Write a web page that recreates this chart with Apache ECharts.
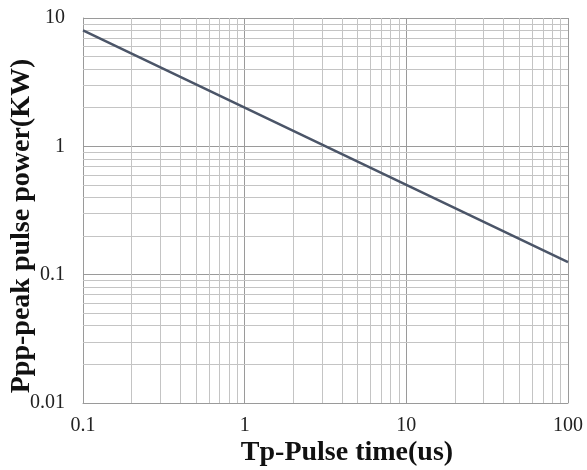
<!DOCTYPE html>
<html>
<head>
<meta charset="utf-8">
<script src="https://cdn.jsdelivr.net/npm/echarts@6/dist/echarts.min.js"></script>
<style>
  html, body { margin: 0; padding: 0; background: #fff; }
  #chart { width: 587px; height: 470px; }
</style>
</head>
<body>
<div id="chart"></div>
<script>
// data
var pulseTime = [0.1, 1, 10, 100];
var peakPower = [8, 2, 0.5, 0.125];

// log grid: decades and the 2..9 lines inside each
var xDecades = [0.1, 1, 10];
var yDecades = [0.01, 0.1, 1];
var minorSteps = [2, 3, 4, 5, 6, 7, 8, 9];

var serif = '"Liberation Serif", "Times New Roman", serif';

function minorLines(decades, key) {
    var out = [];
    decades.forEach(function (d) {
        minorSteps.forEach(function (k) {
            var item = {};
            item[key] = +(d * k).toPrecision(3);
            out.push(item);
        });
    });
    return out;
}

var chart = echarts.init(document.getElementById('chart'));

var axisCommon = {
    type: 'log',
    logBase: 10,
    axisTick: { show: false },
    axisLine: { show: true, lineStyle: { color: '#9a9a9a', width: 1 } },
    splitLine: { show: true, lineStyle: { color: '#9a9a9a', width: 1 } },
    axisLabel: { fontFamily: serif, fontSize: 20, color: '#222' },
    nameMoveOverlap: false,
    nameTextStyle: { fontFamily: serif, fontSize: 28, fontWeight: 'bold', color: '#111' }
};

var option = {
    animation: false,
    grid: { left: 83, right: 19, top: 18, bottom: 67, outerBoundsMode: 'none', containLabel: false },
    xAxis: Object.assign({}, axisCommon, {
        min: 0.1,
        max: 100,
        name: 'Tp-Pulse time(us)',
        nameLocation: 'middle',
        nameGap: 36,
        axisLabel: Object.assign({}, axisCommon.axisLabel, { margin: 13 }),
        nameTextStyle: Object.assign({}, axisCommon.nameTextStyle, { padding: [0, 0, 0, 43] })
    }),
    yAxis: Object.assign({}, axisCommon, {
        min: 0.01,
        max: 10,
        name: 'Ppp-peak pulse power(KW)',
        nameLocation: 'middle',
        nameGap: 47,
        axisLabel: Object.assign({}, axisCommon.axisLabel, { margin: 18 }),
        nameTextStyle: Object.assign({}, axisCommon.nameTextStyle, { padding: [0, 31, 0, 0] })
    }),
    series: [
        {
            type: 'line',
            data: pulseTime.map(function (t, i) { return [t, peakPower[i]]; }),
            symbol: 'none',
            lineStyle: { color: '#4b5568', width: 2.5 },
            z: 5,
            markLine: {
                silent: true,
                symbol: ['none', 'none'],
                label: { show: false },
                lineStyle: { color: '#c4c4c4', width: 1, type: 'solid' },
                data: minorLines(xDecades, 'xAxis').concat(minorLines(yDecades, 'yAxis'))
            }
        }
    ]
};

chart.setOption(option);
</script>
</body>
</html>
